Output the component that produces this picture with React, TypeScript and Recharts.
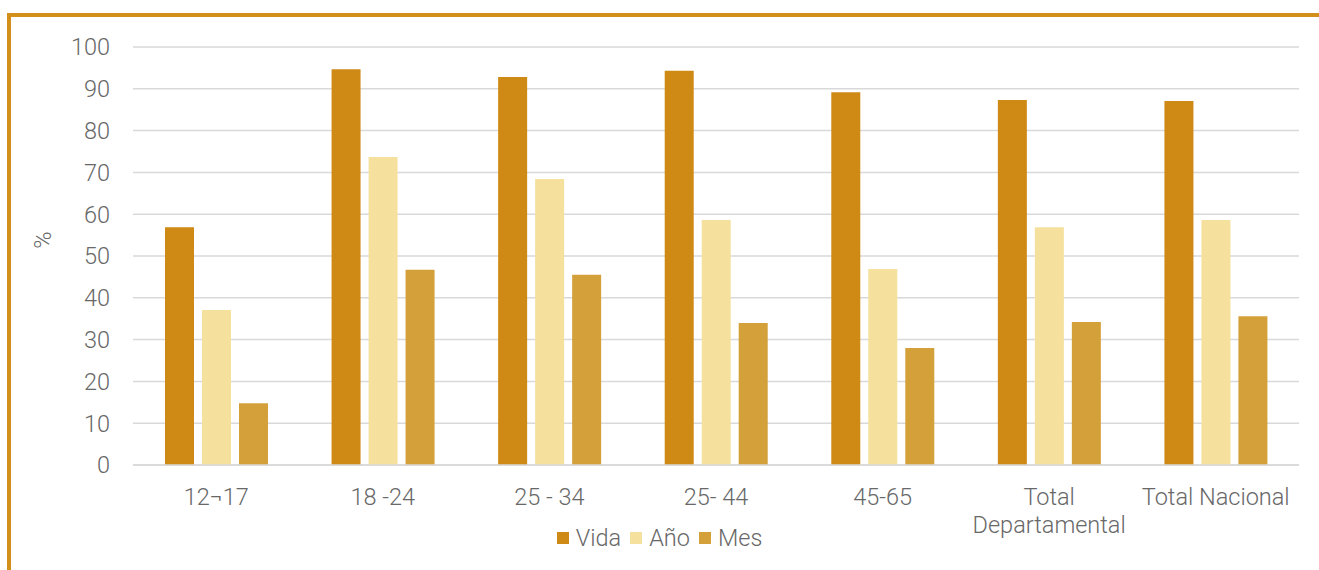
import { Bar, BarChart, CartesianGrid, Legend, XAxis, YAxis } from "recharts";

const CATEGORIES = ["12¬17", "18 -24", "25 - 34", "25- 44", "45-65", "Total Departamental", "Total Nacional"];
const VIDA = [56.9, 94.7, 92.8, 94.3, 89.2, 87.3, 87.1];
const ANO = [37.1, 73.7, 68.4, 58.6, 46.9, 56.9, 58.6];
const MES = [14.8, 46.7, 45.5, 34.0, 28.0, 34.2, 35.6];
const Y_TICKS = [0, 10, 20, 30, 40, 50, 60, 70, 80, 90, 100];

const SERIES = [
  { key: "vida", label: "Vida", color: "#cf8915" },
  { key: "ano", label: "Año", color: "#f5e19d" },
  { key: "mes", label: "Mes", color: "#d4a03a" },
];

const TEXT_COLOR = "#686868";
const FONT = "Roboto, sans-serif";
const FONT_SIZE = 23.5;
const MAX_LINE_CHARS = 15;

const data = CATEGORIES.map((name, i) => ({
  name,
  vida: VIDA[i],
  ano: ANO[i],
  mes: MES[i],
}));

// long labels break at spaces, like the excel original does
function wrapLabel(label: string): string[] {
  if (label.length <= MAX_LINE_CHARS) return [label];
  return label.split(" ");
}

function CategoryTick({ x, y, payload }: any) {
  const lines = wrapLabel(String(payload.value));
  return (
    <text
      x={x}
      y={y}
      textAnchor="middle"
      fill={TEXT_COLOR}
      fontSize={FONT_SIZE}
      fontWeight={300}
      fontFamily={FONT}
    >
      {lines.map((line, i) => (
        <tspan key={i} x={x} dy={i === 0 ? "0.71em" : 28}>
          {line}
        </tspan>
      ))}
    </text>
  );
}

function PercentLabel({ viewBox }: any) {
  const cx = viewBox.x + 45;
  const cy = viewBox.y + viewBox.height / 2 - 16;
  return (
    <text
      x={cx}
      y={cy}
      transform={`rotate(-90, ${cx}, ${cy})`}
      textAnchor="middle"
      dominantBaseline="middle"
      fill={TEXT_COLOR}
      fontSize={FONT_SIZE}
      fontWeight={300}
      fontFamily={FONT}
    >
      %
    </text>
  );
}

function SeriesLegend() {
  return (
    <div style={{ display: "flex", justifyContent: "center", gap: 9, fontFamily: FONT }}>
      {SERIES.map(({ key, label, color }) => (
        <div key={key} style={{ display: "flex", alignItems: "center" }}>
          <span style={{ width: 12, height: 12, background: color, marginRight: 7 }} />
          <span style={{ fontSize: FONT_SIZE, fontWeight: 300, color: TEXT_COLOR }}>{label}</span>
        </div>
      ))}
    </div>
  );
}

export default function App() {
  return (
    <div
      style={{
        position: "absolute",
        left: 0,
        top: 0,
        width: 1319,
        height: 570,
        background: "#ffffff",
        overflow: "hidden",
      }}
    >
      <div
        style={{
          position: "absolute",
          left: 7,
          top: 13,
          width: 1400,
          height: 700,
          borderTop: "4px solid #d48f1a",
          borderLeft: "4px solid #d48f1a",
        }}
      />
      <div style={{ position: "absolute", left: 0, top: 0 }}>
        <BarChart
          width={1319}
          height={570}
          data={data}
          margin={{ top: 47, right: 20, left: 0, bottom: 45 }}
          barCategoryGap={32}
          barGap={8}
          style={{ fontFamily: FONT }}
        >
          <CartesianGrid vertical={false} stroke="#d9d9d9" strokeWidth={1.5} />
          <XAxis
            dataKey="name"
            height={60}
            interval={0}
            axisLine={{ stroke: "#d9d9d9", strokeWidth: 1.5 }}
            tickLine={false}
            tickSize={6}
            tickMargin={17}
            tick={<CategoryTick />}
          />
          <YAxis
            width={133}
            domain={[0, 100]}
            ticks={Y_TICKS}
            interval={0}
            axisLine={false}
            tickLine={false}
            tickSize={6}
            tickMargin={17}
            tick={{ fill: TEXT_COLOR, fontSize: FONT_SIZE, fontWeight: 300, fontFamily: FONT }}
            label={<PercentLabel />}
          />
          <Legend
            verticalAlign="middle"
            layout="horizontal"
            content={<SeriesLegend />}
            wrapperStyle={{ top: 524, left: 0, width: 1319 }}
          />
          {SERIES.map(({ key, label, color }) => (
            <Bar key={key} dataKey={key} name={label} fill={color} isAnimationActive={false} />
          ))}
        </BarChart>
      </div>
    </div>
  );
}
